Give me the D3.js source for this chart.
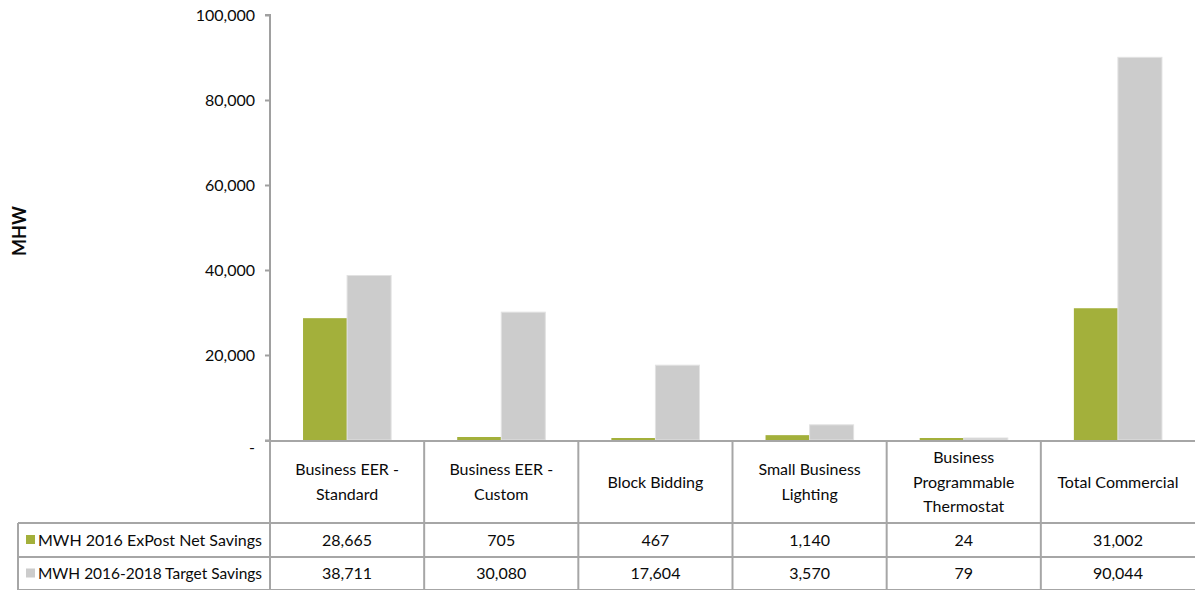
<!DOCTYPE html>
<html>
<head>
<meta charset="utf-8">
<script src="https://cdn.jsdelivr.net/npm/d3@7"></script>
<style>
  html, body { margin: 0; padding: 0; background: #fff; }
  svg { display: block; }
  text { font-family: "Lato", "Open Sans", sans-serif; fill: #0a0a0a; }
</style>
</head>
<body>
<svg id="chart" width="1195" height="590"></svg>
<script>
// ---- data ----
const categories = [
  ["Business EER -", "Standard"],
  ["Business EER -", "Custom"],
  ["Block Bidding"],
  ["Small Business", "Lighting"],
  ["Business", "Programmable", "Thermostat"],
  ["Total Commercial"]
];
const seriesNames = ["MWH 2016 ExPost Net Savings", "MWH 2016-2018 Target Savings"];
const netSavings = [28665, 705, 467, 1140, 24, 31002];
const targetSavings = [38711, 30080, 17604, 3570, 79, 90044];
const yTicks = [0, 20000, 40000, 60000, 80000, 100000];
const colors = ["#a3b03b", "#cccccc"];

// ---- layout ----
const svg = d3.select("#chart");
const plotLeft = 270, plotRight = 1195, plotTop = 15, base = 440;
const rowY = [441, 523, 557, 590];
const legendLeft = 18;

const catIdx = d3.range(categories.length);
const x0 = d3.scaleBand().domain(catIdx).range([plotLeft, plotRight]).paddingInner(0).paddingOuter(0);
const x1 = d3.scaleBand().domain([0, 1]).range([0, x0.bandwidth()]).paddingInner(0).paddingOuter(0.75);
const y = d3.scaleLinear().domain([0, 100000]).range([base, plotTop]);

const seriesData = [netSavings, targetSavings];
const fmt = d3.format(",");
const minH = 2; // renderer minimum visible bar height (as in original)

// bars
const g = svg.append("g");
seriesData.forEach((vals, si) => {
  g.selectAll(null).data(vals).enter().append("rect")
    .attr("x", (d, i) => x0(i) + x1(si))
    .attr("y", d => Math.min(y(d), base - minH))
    .attr("width", x1.bandwidth())
    .attr("height", d => Math.max(base - y(d), minH))
    .attr("fill", colors[si])
    .attr("stroke", si === 1 ? "#e2e2e2" : "none")
    .attr("stroke-width", 1);
});

// y axis
const yAxis = d3.axisLeft(y).tickValues(yTicks).tickSize(5).tickPadding(10)
  .tickFormat(d => d === 0 ? "-" : fmt(d));
const ya = svg.append("g").attr("transform", `translate(${plotLeft},0)`).call(yAxis);
ya.select(".domain").attr("stroke", "#a0a0a0").attr("stroke-width", 2).attr("d", `M-5,${plotTop}H0V${base}`);
ya.selectAll(".tick line").attr("stroke", "#a0a0a0").attr("stroke-width", 2);
ya.selectAll(".tick text").style("font-family", "Lato, sans-serif").style("font-size", "16px").attr("fill", "#0a0a0a").attr("x", -15);
ya.selectAll(".tick").filter(d => d === 0).select("text").attr("dy", "0.75em");

// y label
svg.append("text")
  .attr("transform", `translate(26,${231}) rotate(-90)`)
  .attr("text-anchor", "middle")
  .style("font-size", "18px").style("font-weight", "bold")
  .text("MHW");

// table lines
const lineC = "#a6a6a6";
const lines = svg.append("g").attr("stroke", lineC).attr("stroke-width", 2);
lines.append("line").attr("x1", plotLeft - 5).attr("x2", plotRight).attr("y1", base + 1).attr("y2", base + 1);
[rowY[1], rowY[2], rowY[3]].forEach(yy => lines.append("line").attr("x1", legendLeft).attr("x2", plotRight).attr("y1", yy).attr("y2", yy));
lines.append("line").attr("x1", legendLeft).attr("x2", legendLeft).attr("y1", rowY[1]).attr("y2", rowY[3]);
catIdx.forEach(i => {
  const xx = x0(i);
  lines.append("line").attr("x1", xx).attr("x2", xx).attr("y1", base + 1).attr("y2", rowY[3]);
});

// header labels
catIdx.forEach(i => {
  const lns = categories[i];
  const cx = x0(i) + x0.bandwidth() / 2;
  const cy = (rowY[0] + rowY[1]) / 2;
  const lh = 24.5;
  const t = svg.append("text").attr("text-anchor", "middle").style("font-size", "16px");
  lns.forEach((s, k) => {
    t.append("tspan").attr("x", cx)
      .attr("y", cy + (k - (lns.length - 1) / 2) * lh)
      .attr("dy", "0.35em").text(s);
  });
});

// data rows
seriesData.forEach((vals, si) => {
  const cy = (rowY[si + 1] + rowY[si + 2]) / 2;
  svg.append("rect").attr("x", 26).attr("y", cy - 5).attr("width", 9).attr("height", 9).attr("fill", colors[si]);
  svg.append("text").attr("x", 38).attr("y", cy).attr("dy", "0.35em").style("font-size", "16px")
    .attr("textLength", 224).attr("lengthAdjust", "spacingAndGlyphs")
    .text(seriesNames[si]);
  svg.selectAll(null).data(vals).enter().append("text")
    .attr("x", (d, i) => x0(i) + x0.bandwidth() / 2)
    .attr("y", cy).attr("dy", "0.35em")
    .attr("text-anchor", "middle").style("font-size", "16px")
    .text(d => fmt(d));
});
</script>
</body>
</html>
